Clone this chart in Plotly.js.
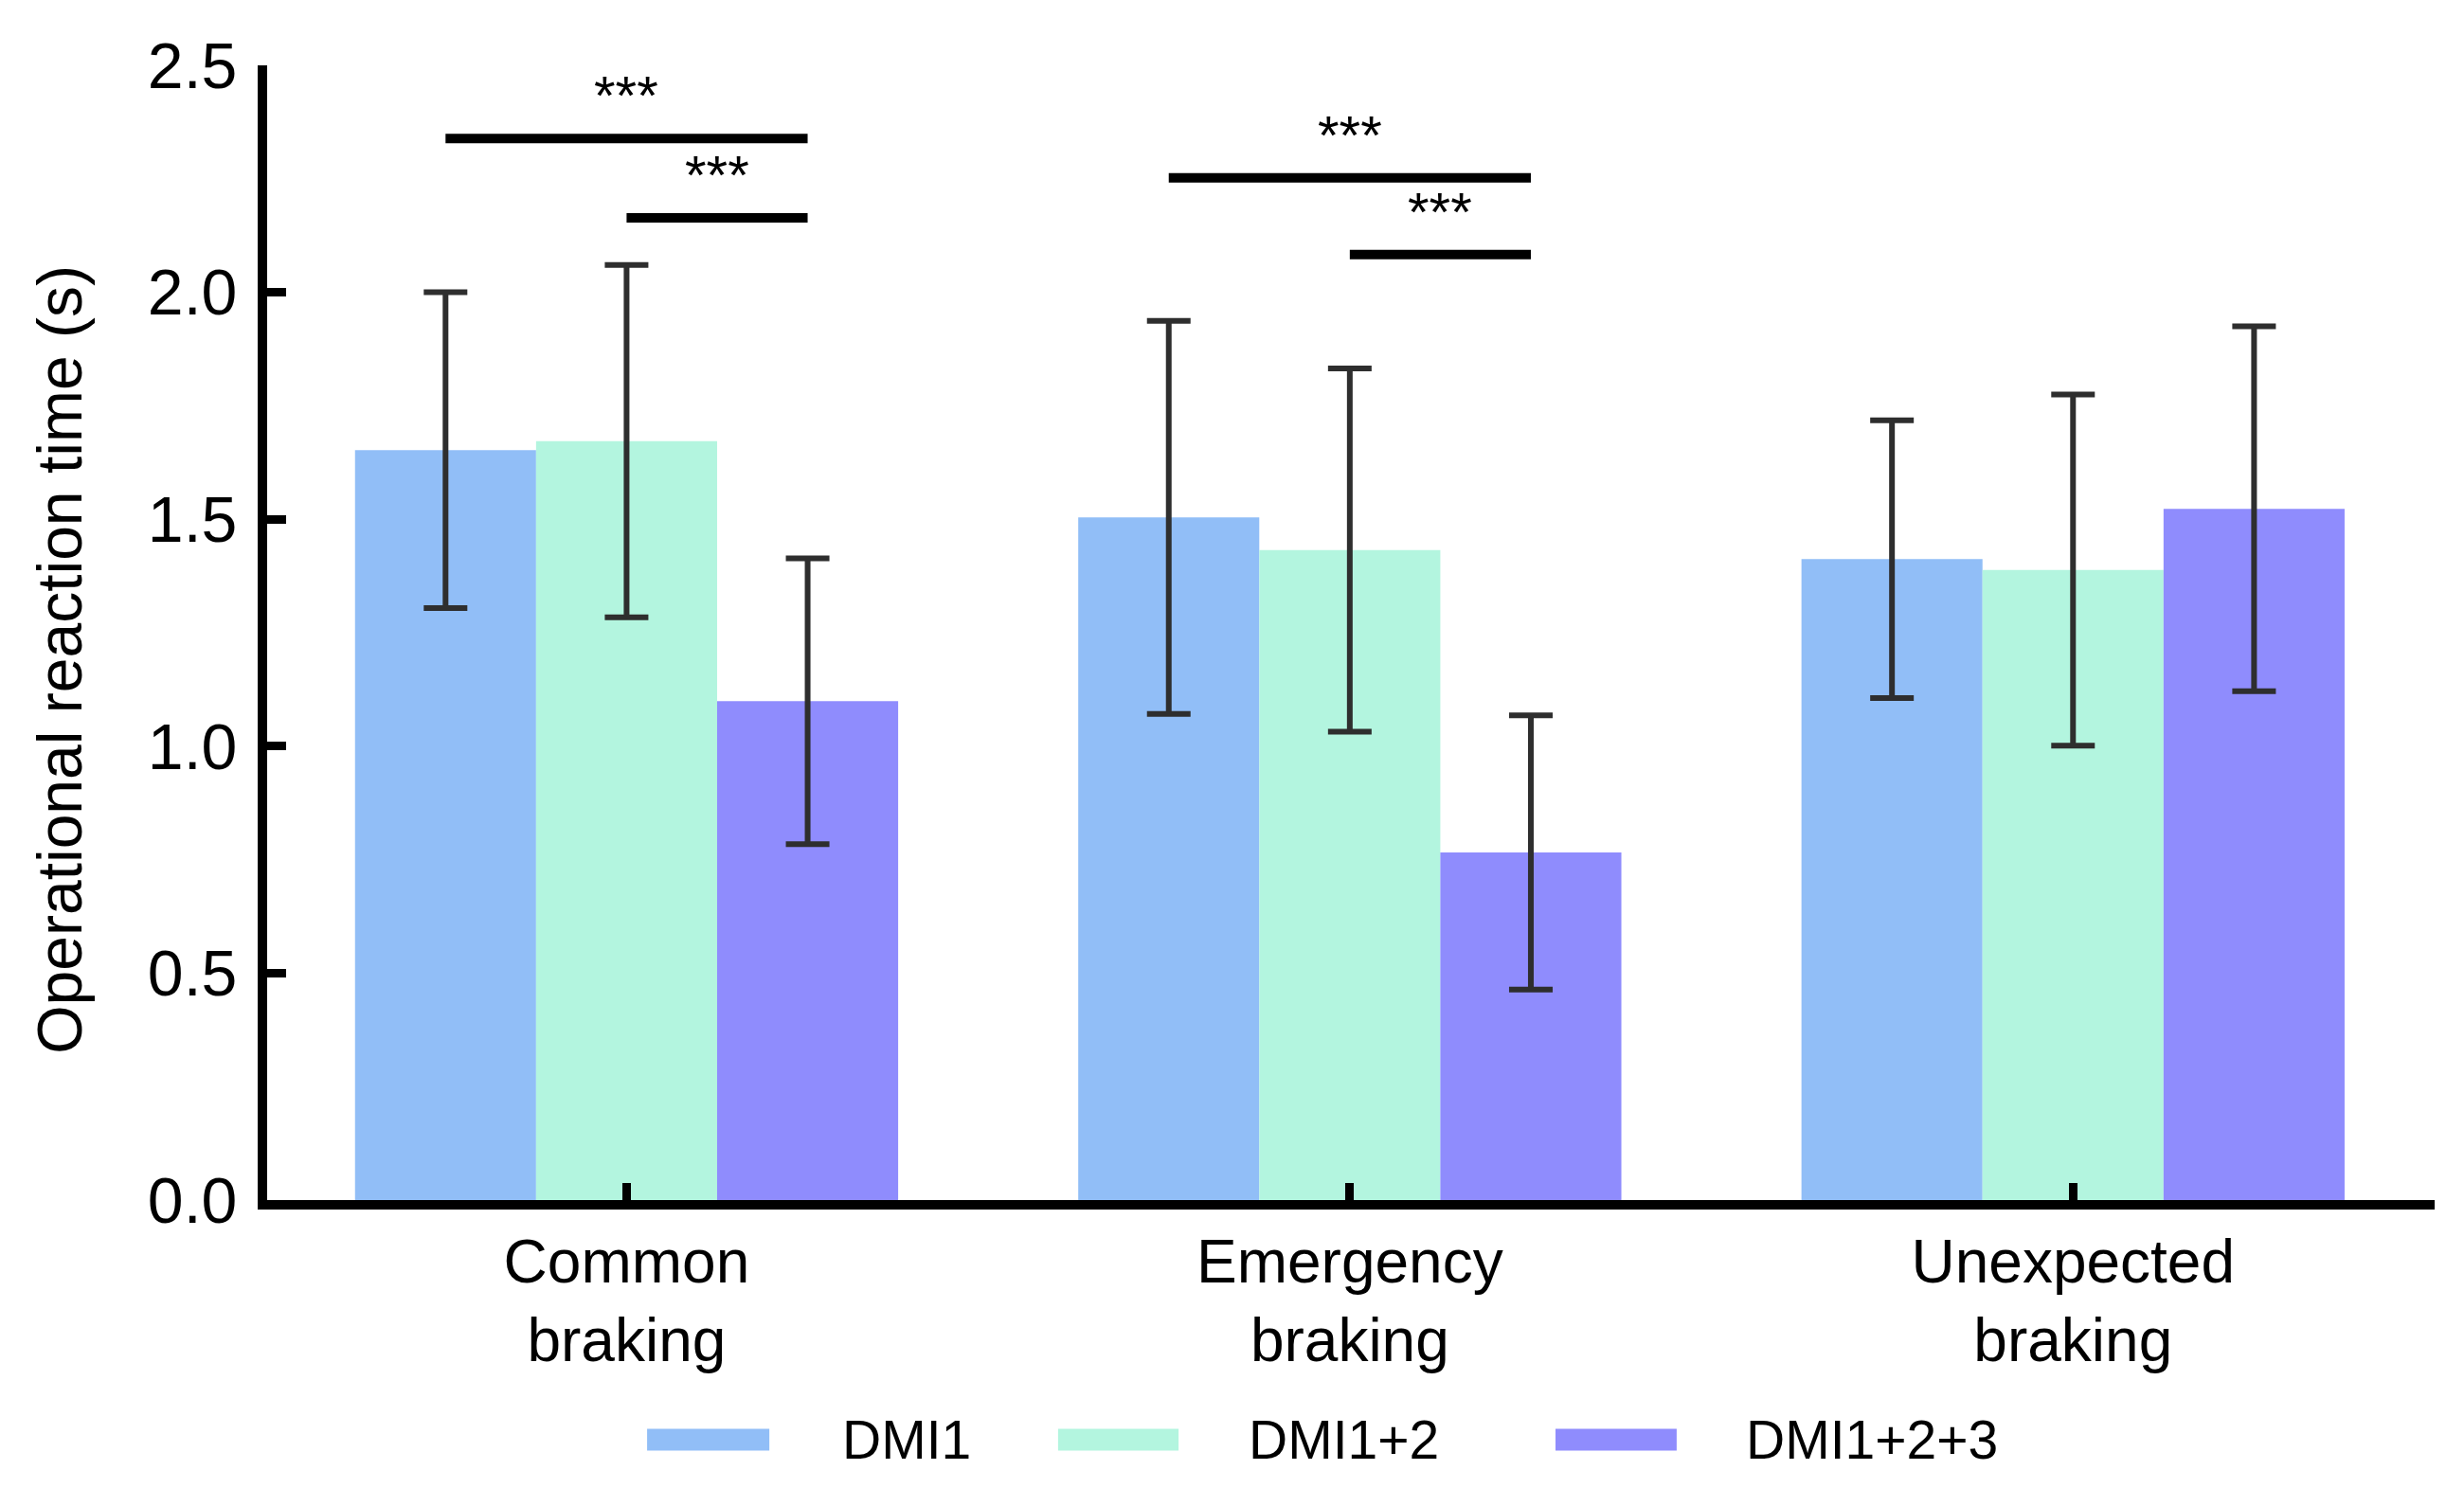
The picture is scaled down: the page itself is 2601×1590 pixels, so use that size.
<!DOCTYPE html>
<html><head><meta charset="utf-8">
<script src="https://cdn.plot.ly/plotly-3.0.1.min.js"></script>
<style>html,body{margin:0;padding:0;background:#fff}#chart{width:2601px;height:1590px}</style>
</head><body><div id="chart"></div>
<script>
// ---------- data ----------
const categories = ["Common<br>braking", "Emergency<br>braking", "Unexpected<br>braking"];
const seriesNames = ["DMI1", "DMI1+2", "DMI1+2+3"];
const dmi1Mean = [1.652, 1.504, 1.412];
const dmi1Err = [0.348, 0.433, 0.306];
const dmi12Mean = [1.672, 1.432, 1.388];
const dmi12Err = [0.388, 0.400, 0.387];
const dmi123Mean = [1.099, 0.766, 1.523];
const dmi123Err = [0.315, 0.302, 0.402];
const yTickVals = [0, 0.5, 1.0, 1.5, 2.0, 2.5];
const yTickText = ["0.0", "0.5", "1.0", "1.5", "2.0", "2.5"];
const yTitle = "Operational reaction time (s)";
// significance brackets: category index, from series index, to series index, y level, label
const sigCategory = [0, 0, 1, 1];
const sigFrom = [0, 1, 0, 1];
const sigTo = [2, 2, 2, 2];
const sigLevel = [2.339, 2.164, 2.252, 2.083];
const sigLabel = ["***", "***", "***", "***"];

// ---------- style ----------
const colors = ["#91BEF7", "#B3F5DF", "#8F8CFD"];
const FONT = "Liberation Sans, Arial, Helvetica, sans-serif";
const bargap = 0.249;
const barW = (1 - bargap) / 3;

const means = [dmi1Mean, dmi12Mean, dmi123Mean];
const errs = [dmi1Err, dmi12Err, dmi123Err];

const traces = seriesNames.map((name, i) => ({
  type: "bar",
  name: name,
  x: categories,
  y: means[i],
  marker: {color: colors[i], line: {width: 0}},
  error_y: {type: "data", array: errs[i], visible: true, color: "#2e2e2e", thickness: 6, width: 23},
  showlegend: false,
  hoverinfo: "skip"
}));

const shapes = [];
const annotations = [];
for (let k = 0; k < sigCategory.length; k++) {
  const x0 = sigCategory[k] + (sigFrom[k] - 1) * barW;
  const x1 = sigCategory[k] + (sigTo[k] - 1) * barW;
  shapes.push({type: "line", xref: "x", yref: "y", x0: x0, x1: x1, y0: sigLevel[k], y1: sigLevel[k],
    line: {color: "#000", width: 10}});
  annotations.push({xref: "x", yref: "y", x: (x0 + x1) / 2, y: sigLevel[k], text: sigLabel[k],
    showarrow: false, yanchor: "bottom", yshift: 11, font: {family: FONT, size: 58, color: "#000"}});
}

// y-axis title (placed as rotated text so it can sit slightly below the plot centre, as in the original)
annotations.push({xref: "paper", yref: "paper", x: -0.0957, y: 0.476, xanchor: "center", yanchor: "middle",
  textangle: -90, text: yTitle, showarrow: false, font: {family: FONT, size: 66, color: "#000"}});

// custom legend (wide swatches)
const legSwatchX = [[0.1753, 0.2317], [0.3649, 0.4205], [0.5944, 0.6503]];
const legTextX = [0.2644, 0.4519, 0.6814];
const legY = -0.2112, legH = 0.0096;
seriesNames.forEach((name, i) => {
  shapes.push({type: "rect", xref: "paper", yref: "paper", x0: legSwatchX[i][0], x1: legSwatchX[i][1],
    y0: legY - legH, y1: legY + legH, fillcolor: colors[i], line: {width: 0}});
  annotations.push({xref: "paper", yref: "paper", x: legTextX[i], y: legY, xanchor: "left", yanchor: "middle",
    text: name, showarrow: false, font: {family: FONT, size: 57, color: "#000"}});
});

const layout = {
  width: 2601, height: 1590,
  paper_bgcolor: "#fff", plot_bgcolor: "#fff",
  margin: {l: 282, r: 31, t: 69, b: 323, autoexpand: false},
  font: {family: FONT, color: "#000"},
  barmode: "group", bargap: bargap, bargroupgap: 0,
  showlegend: false,
  xaxis: {
    type: "category", range: [-0.497, 2.5], automargin: false,
    showline: true, linecolor: "#000", linewidth: 10,
    ticks: "inside", ticklen: 18, tickwidth: 9, tickcolor: "#000",
    tickfont: {family: FONT, size: 64, color: "#000"},
    showgrid: false, zeroline: false
  },
  yaxis: {
    range: [0, 2.5], automargin: false,
    tickmode: "array", tickvals: yTickVals, ticktext: yTickText,
    showline: true, linecolor: "#000", linewidth: 10,
    ticks: "inside", ticklen: 20, tickwidth: 9, tickcolor: "#000",
    ticklabelstandoff: 8,
    tickfont: {family: FONT, size: 68, color: "#000"},
    showgrid: false, zeroline: false
  },
  shapes: shapes,
  annotations: annotations
};

Plotly.newPlot("chart", traces, layout, {staticPlot: true, displayModeBar: false});
</script>
</body></html>
